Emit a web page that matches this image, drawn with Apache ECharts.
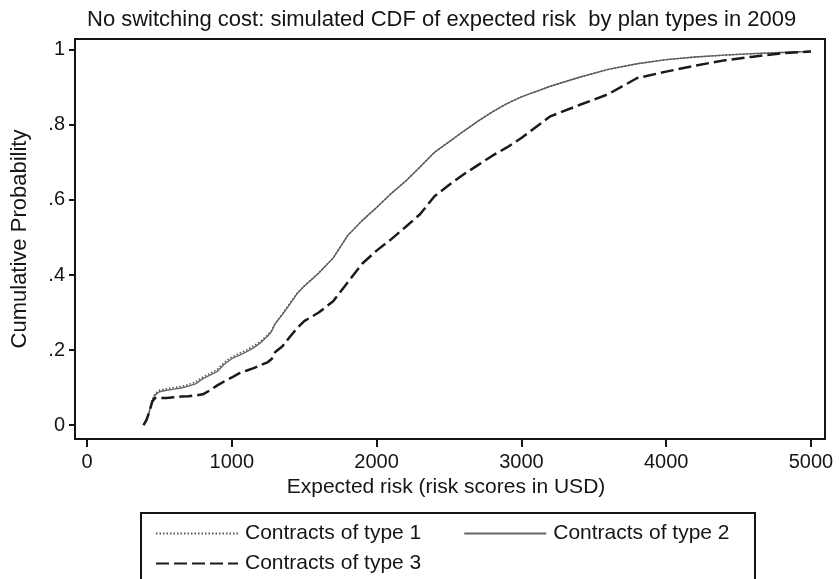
<!DOCTYPE html>
<html>
<head>
<meta charset="utf-8">
<title>Simulated CDF of expected risk</title>
<script src="https://cdn.jsdelivr.net/npm/echarts@6/dist/echarts.min.js"></script>
<style>
  html, body { margin: 0; padding: 0; background: #fff; }
  #chart { width: 839px; height: 579px; }
</style>
</head>
<body>
<div id="chart"></div>
<script>
// Expected risk grid (USD) at which the simulated CDFs are evaluated
const riskGrid = [390, 410, 430, 450, 470, 500, 550, 600, 650, 700, 750, 800, 850, 900, 950,
  1000, 1050, 1100, 1150, 1200, 1250, 1275, 1300, 1350, 1400, 1450, 1500, 1600, 1700, 1800,
  1900, 2000, 2100, 2200, 2300, 2400, 2500, 2600, 2700, 2800, 2900, 3000, 3200, 3400, 3600,
  3800, 4000, 4200, 4400, 4600, 4800, 5000];

// Cumulative probability by plan type
const cdfType1 = [0, 0.014, 0.037, 0.068, 0.084, 0.093, 0.097, 0.1, 0.103, 0.108, 0.115, 0.128,
  0.138, 0.149, 0.168, 0.182, 0.191, 0.2, 0.211, 0.224, 0.241, 0.252, 0.272, 0.297, 0.324,
  0.351, 0.371, 0.406, 0.446, 0.505, 0.545, 0.58, 0.617, 0.65, 0.688, 0.727, 0.755, 0.783,
  0.81, 0.835, 0.857, 0.875, 0.903, 0.927, 0.948, 0.963, 0.974, 0.981, 0.986, 0.99, 0.993, 0.996];
const cdfType2 = [0, 0.013, 0.035, 0.065, 0.08, 0.089, 0.093, 0.096, 0.099, 0.104, 0.11, 0.124,
  0.133, 0.143, 0.163, 0.177, 0.186, 0.195, 0.206, 0.22, 0.238, 0.25, 0.27, 0.295, 0.322,
  0.35, 0.37, 0.405, 0.445, 0.505, 0.545, 0.58, 0.617, 0.65, 0.688, 0.727, 0.755, 0.783,
  0.81, 0.835, 0.857, 0.875, 0.903, 0.927, 0.948, 0.963, 0.974, 0.981, 0.986, 0.99, 0.993, 0.996];
const cdfType3 = [0, 0.013, 0.035, 0.062, 0.072, 0.072, 0.072, 0.074, 0.076, 0.077, 0.079, 0.082,
  0.093, 0.106, 0.117, 0.127, 0.138, 0.145, 0.152, 0.16, 0.168, 0.176, 0.195, 0.21, 0.235,
  0.258, 0.277, 0.3, 0.33, 0.38, 0.43, 0.465, 0.495, 0.528, 0.562, 0.61, 0.64, 0.668, 0.693,
  0.718, 0.74, 0.765, 0.823, 0.853, 0.882, 0.925, 0.942, 0.958, 0.972, 0.982, 0.991, 0.996];

const seriesNames = ['Contracts of type 1', 'Contracts of type 2', 'Contracts of type 3'];
const xTicks = [0, 1000, 2000, 3000, 4000, 5000];
const yTicks = [0, 0.2, 0.4, 0.6, 0.8, 1];

const FONT = "'Liberation Sans', Arial, sans-serif";
const INK = '#151515';

function pairs(xs, ys) {
  return xs.map((x, i) => [x, ys[i]]);
}

function probLabel(v) {
  if (v === 0) return '0';
  if (v === 1) return '1';
  return String(+v.toFixed(1)).replace(/^0/, '');
}

const legendCommon = {
  left: 150,
  itemWidth: 82, itemHeight: 20, itemGap: 42,
  itemStyle: { opacity: 0 },
  textStyle: { fontFamily: FONT, fontSize: 21, color: INK, padding: [0, 0, 0, 2] }
};

const chart = echarts.init(document.getElementById('chart'), null, { renderer: 'canvas' });

chart.setOption({
  backgroundColor: '#ffffff',
  animation: false,
  title: {
    text: 'No switching cost: simulated CDF of expected risk  by plan types in 2009',
    left: 82,
    top: 4,
    textStyle: { fontFamily: FONT, fontSize: 22, fontWeight: 'normal', color: INK }
  },
  grid: {
    left: 75, right: 14, top: 39, bottom: 140,
    show: true, borderColor: INK, borderWidth: 2, backgroundColor: 'transparent'
  },
  xAxis: {
    type: 'value',
    min: -83, max: 5097,
    name: 'Expected risk (risk scores in USD)',
    nameLocation: 'middle',
    nameGap: 36,
    nameTextStyle: { fontFamily: FONT, fontSize: 21, color: INK, padding: [0, 8, 0, 0] },
    axisLine: { show: true, onZero: false, lineStyle: { color: INK, width: 2 } },
    axisTick: { show: true, length: 8, inside: false, customValues: xTicks, lineStyle: { color: INK, width: 2 } },
    axisLabel: {
      customValues: xTicks, margin: 13, fontFamily: FONT, fontSize: 20, color: INK,
      formatter: v => String(v)
    },
    splitLine: { show: false }
  },
  yAxis: {
    type: 'value',
    min: -0.037, max: 1.029,
    name: 'Cumulative Probability',
    nameLocation: 'middle',
    nameGap: 44,
    nameRotate: 90,
    nameTextStyle: { fontFamily: FONT, fontSize: 22, color: INK },
    axisLine: { show: true, onZero: false, lineStyle: { color: INK, width: 2 } },
    axisTick: { show: true, length: 6, inside: false, customValues: yTicks, lineStyle: { color: INK, width: 2 } },
    axisLabel: {
      customValues: yTicks, margin: 10, fontFamily: FONT, fontSize: 20, color: INK,
      formatter: probLabel
    },
    splitLine: { show: false }
  },
  legend: [
    Object.assign({ data: [seriesNames[0], seriesNames[1]], top: 518 }, legendCommon),
    Object.assign({ data: [seriesNames[2]], top: 548 }, legendCommon)
  ],
  graphic: [
    {
      type: 'rect',
      shape: { x: 141, y: 513, width: 614, height: 120 },
      style: { fill: null, stroke: INK, lineWidth: 2 },
      silent: true
    }
  ],
  series: [
    {
      name: seriesNames[0],
      type: 'line',
      symbol: 'none',
      data: pairs(riskGrid, cdfType1),
      lineStyle: { color: '#555555', width: 1.5, type: [1.5, 2] },
      itemStyle: { color: '#555555' },
      z: 3
    },
    {
      name: seriesNames[1],
      type: 'line',
      symbol: 'none',
      data: pairs(riskGrid, cdfType2),
      lineStyle: { color: '#666666', width: 1.4, type: 'solid' },
      itemStyle: { color: '#666666' },
      z: 2
    },
    {
      name: seriesNames[2],
      type: 'line',
      symbol: 'none',
      data: pairs(riskGrid, cdfType3),
      lineStyle: { color: '#1a1a1a', width: 2.5, type: [13, 5] },
      itemStyle: { color: '#1a1a1a' },
      z: 4
    }
  ]
});
</script>
</body>
</html>
